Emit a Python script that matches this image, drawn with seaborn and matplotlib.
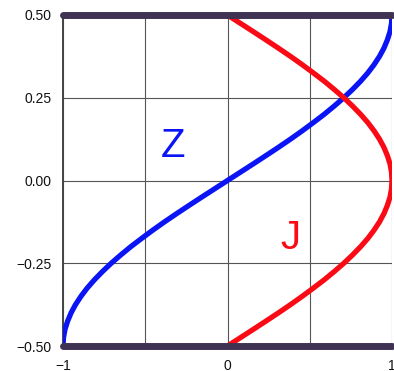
import matplotlib
matplotlib.use("Agg")
import matplotlib.pyplot as plt
import seaborn as sns
import pandas as pd

# Depth coordinate (vertical axis)
depth = [-0.500, -0.475, -0.450, -0.425, -0.400, -0.375, -0.350, -0.325, -0.300, -0.275,
         -0.250, -0.225, -0.200, -0.175, -0.150, -0.125, -0.100, -0.075, -0.050, -0.025,
         0.000,
         0.025, 0.050, 0.075, 0.100, 0.125, 0.150, 0.175, 0.200, 0.225, 0.250,
         0.275, 0.300, 0.325, 0.350, 0.375, 0.400, 0.425, 0.450, 0.475, 0.500]
# Z profile (blue)
z_vals = [-1.000, -0.997, -0.988, -0.972, -0.951, -0.924, -0.891, -0.853, -0.809, -0.760,
          -0.707, -0.649, -0.588, -0.522, -0.454, -0.383, -0.309, -0.233, -0.156, -0.078,
          0.000,
          0.078, 0.156, 0.233, 0.309, 0.383, 0.454, 0.522, 0.588, 0.649, 0.707,
          0.760, 0.809, 0.853, 0.891, 0.924, 0.951, 0.972, 0.988, 0.997, 1.000]
# J profile (red)
j_vals = [0.000, 0.078, 0.156, 0.233, 0.309, 0.383, 0.454, 0.522, 0.588, 0.649,
          0.707, 0.760, 0.809, 0.853, 0.891, 0.924, 0.951, 0.972, 0.988, 0.997,
          1.000,
          0.997, 0.988, 0.972, 0.951, 0.924, 0.891, 0.853, 0.809, 0.760, 0.707,
          0.649, 0.588, 0.522, 0.454, 0.383, 0.309, 0.233, 0.156, 0.078, 0.000]

x_ticks = [-1, 0, 1]
x_tick_labels = ["\u22121", "0", "1"]
x_minor = [-0.5, 0.5]
y_ticks = [-0.5, -0.25, 0.0, 0.25, 0.5]
y_tick_labels = ["\u22120.50", "\u22120.25", "0.00", "0.25", "0.50"]
walls = [-0.5, 0.5]

sns.set_style("white")
plt.rcParams["font.family"] = ["Liberation Sans", "DejaVu Sans"]

df = pd.DataFrame({"y": depth, "Z": z_vals, "J": j_vals})

fig = plt.figure(figsize=(3.94, 3.71), dpi=100)
ax = fig.add_axes([63 / 394, 25 / 371, 329 / 394, 331 / 371])

sns.lineplot(data=df, x="Z", y="y", orient="y", sort=False, estimator=None,
             color="#0a14f5", lw=3.8, ax=ax, zorder=3)
sns.lineplot(data=df, x="J", y="y", orient="y", sort=False, estimator=None,
             color="#fa0a14", lw=3.8, ax=ax, zorder=3)

# Thick boundary walls at top and bottom
for w in walls:
    ax.axhline(w, color="#403252", lw=5.0, zorder=5, clip_on=False)

ax.set_xlim(-1, 1)
ax.set_ylim(-0.5, 0.5)
ax.set_xticks(x_ticks)
ax.set_xticklabels(x_tick_labels)
ax.set_xticks(x_minor, minor=True)
ax.set_yticks(y_ticks)
ax.set_yticklabels(y_tick_labels)
ax.set_xlabel("")
ax.set_ylabel("")

ax.grid(True, which="both", color="#555555", lw=0.8, zorder=1)
ax.set_axisbelow(True)
ax.tick_params(axis="both", which="major", length=5, width=0.8,
               color="#777777", labelsize=10, labelcolor="#111111", pad=3)
ax.tick_params(axis="x", which="major", pad=4)
ax.tick_params(axis="x", which="minor", length=0)

for side in ["top", "right", "bottom"]:
    ax.spines[side].set_visible(False)
ax.spines["left"].set_color("#444444")
ax.spines["left"].set_linewidth(1.4)

ax.text(-0.33, 0.105, "Z", color="#0a14f5", fontsize=29,
        ha="center", va="center")
ax.text(0.385, -0.175, "J", color="#fa0a14", fontsize=29,
        ha="center", va="center")

fig.savefig("out.png", dpi=100)
